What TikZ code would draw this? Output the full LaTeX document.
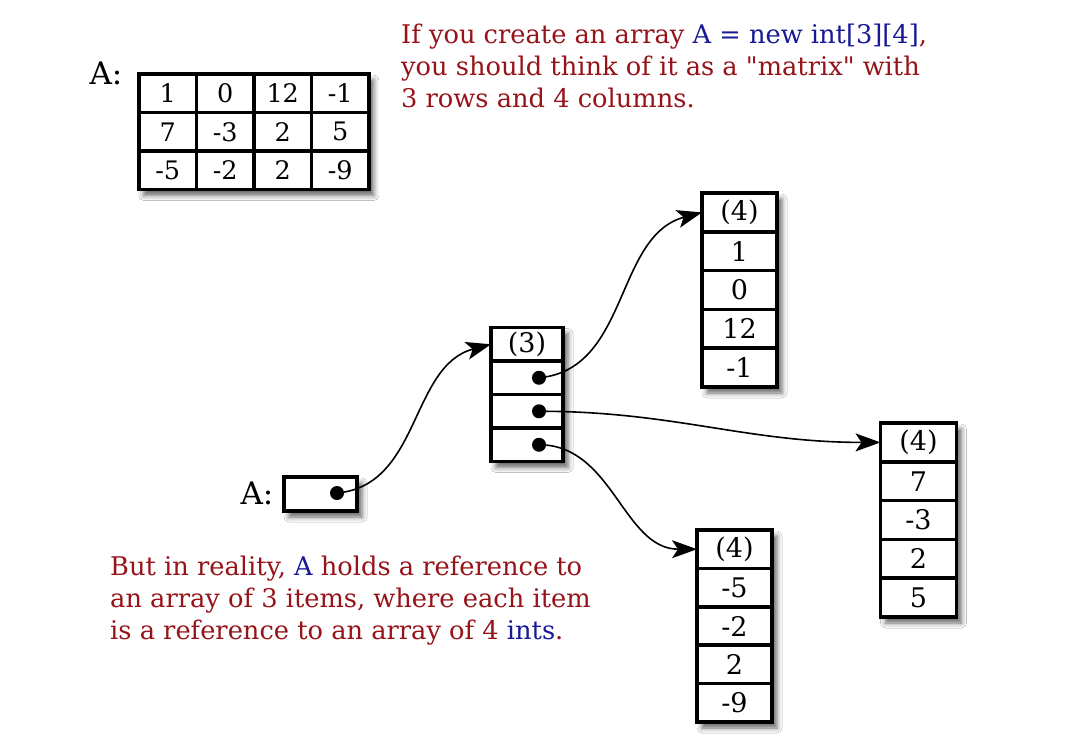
\documentclass[tikz,border=0pt]{standalone}
\usepackage{fontspec}
\setmainfont{DejaVu Serif}[Ligatures=TeXOff]
\usetikzlibrary{arrows.meta,shadows.blur}
\definecolor{notered}{RGB}{150,20,25}
\definecolor{noteblue}{RGB}{25,25,150}

\tikzset{
  frame/.style={shape=rectangle,draw=black,line width=3.5pt,fill=white,inner sep=0pt,outer sep=0pt,
    blur shadow={shadow xshift=5pt,shadow yshift=-6pt,shadow blur radius=5pt,shadow opacity=60}},
  cell/.style={shape=rectangle,draw=black,line width=3.5pt,inner sep=0pt,outer sep=0pt},
  mcell/.style={cell,minimum width=57.5pt,minimum height=38.5pt},
  rcell/.style={cell,minimum width=72pt,minimum height=33.5pt,font=\fontsize{27}{30}\selectfont},
  icell/.style={cell,minimum width=75pt,minimum height=38.6pt,font=\fontsize{27}{30}\selectfont},
  ref/.style={shape=circle,fill=black,inner sep=0pt,minimum size=14pt},
  ptr/.style={-{Stealth[length=25pt,width=18pt,inset=6pt]},line width=1.6pt},
  lbl/.style={font=\fontsize{31}{36}\selectfont,inner sep=0pt},
  note/.style={align=left,text=notered,inner sep=0pt,font=\fontsize{25.7}{32}\selectfont}
}

\begin{document}
\begin{tikzpicture}[x=1pt,y=-1pt,font=\fontsize{25.5}{30}\selectfont]
    \fill[white] (0,0) rectangle (1071,742);
    \useasboundingbox (0,0) rectangle (1071,742);
    % the matrix view
    \node[lbl] (lbla) at (106,73) {A:};
    \node[frame,minimum width=230pt,minimum height=115.5pt] (mframe) at (253.75,131.75) {};
    \node[mcell] (m11) at (167.75,93.25) {1};
    \node[mcell] (m12) at (225.25,93.25) {0};
    \node[mcell] (m13) at (282.75,93.25) {12};
    \node[mcell] (m14) at (340.25,93.25) {-1};
    \node[mcell] (m21) at (167.75,131.75) {7};
    \node[mcell] (m22) at (225.25,131.75) {-3};
    \node[mcell] (m23) at (282.75,131.75) {2};
    \node[mcell] (m24) at (340.25,131.75) {5};
    \node[mcell] (m31) at (167.75,170.25) {-5};
    \node[mcell] (m32) at (225.25,170.25) {-2};
    \node[mcell] (m33) at (282.75,170.25) {2};
    \node[mcell] (m34) at (340.25,170.25) {-9};
    \node[note,anchor=north west] (top) at (401,24) {If you create an array \textcolor{noteblue}{A = new int[3][4]},\\you should think of it as a "matrix" with\\3 rows and 4 columns.};
    % the variable A
    \node[lbl] (lblb) at (257,493) {A:};
    \node[frame,minimum width=73pt,minimum height=34pt] (var) at (320.5,494) {};
    \node[ref] (d0) at (337,493) {};
    % array of 3 references
    \node[frame,minimum width=72pt,minimum height=134pt] (rframe) at (527,394.5) {};
    \node[rcell] (r0) at (527,344.25) {(3)};
    \node[rcell] (r1) at (527,377.75) {};
    \node[rcell] (r2) at (527,411.25) {};
    \node[rcell] (r3) at (527,444.75) {};
    \node[ref] (d1) at (539,377.75) {};
    \node[ref] (d2) at (539,411.25) {};
    \node[ref] (d3) at (539,444.75) {};
    % row 0
    \node[frame,minimum width=75pt,minimum height=194pt] (aframe) at (739.5,290) {};
    \node[icell] (a0) at (739.5,212.4) {(4)};
    \node[icell] (a1) at (739.5,251.2) {1};
    \node[icell] (a2) at (739.5,290) {0};
    \node[icell] (a3) at (739.5,328.8) {12};
    \node[icell] (a4) at (739.5,367.6) {-1};
    % row 1
    \node[frame,minimum width=76pt,minimum height=194pt] (bframe) at (918.5,520) {};
    \node[icell,minimum width=76pt] (b0) at (918.5,442.4) {(4)};
    \node[icell,minimum width=76pt] (b1) at (918.5,481.2) {7};
    \node[icell,minimum width=76pt] (b2) at (918.5,520) {-3};
    \node[icell,minimum width=76pt] (b3) at (918.5,558.8) {2};
    \node[icell,minimum width=76pt] (b4) at (918.5,597.6) {5};
    % row 2
    \node[frame,minimum width=75pt,minimum height=192pt] (cframe) at (734.5,626) {};
    \node[icell] (c0) at (734.5,549.2) {(4)};
    \node[icell] (c1) at (734.5,587.6) {-5};
    \node[icell] (c2) at (734.5,626) {-2};
    \node[icell] (c3) at (734.5,664.4) {2};
    \node[icell] (c4) at (734.5,702.8) {-9};
    \path[ptr] (d0.center) edge[out=5,in=195] (r0.west);
    \path[ptr] (d1.center) edge[out=5,in=195] (a0.west);
    \path[ptr] (d2.center) edge[out=0,in=180] (b0.west);
    \path[ptr] (d3.center) edge[out=0,in=180] (c0.west);
    \node[note,anchor=north west] (bottom) at (110,556) {But in reality, \textcolor{noteblue}{A} holds a reference to\\an array of 3 items, where each item\\is a reference to an array of 4 \textcolor{noteblue}{ints}.};
\end{tikzpicture}
\end{document}
